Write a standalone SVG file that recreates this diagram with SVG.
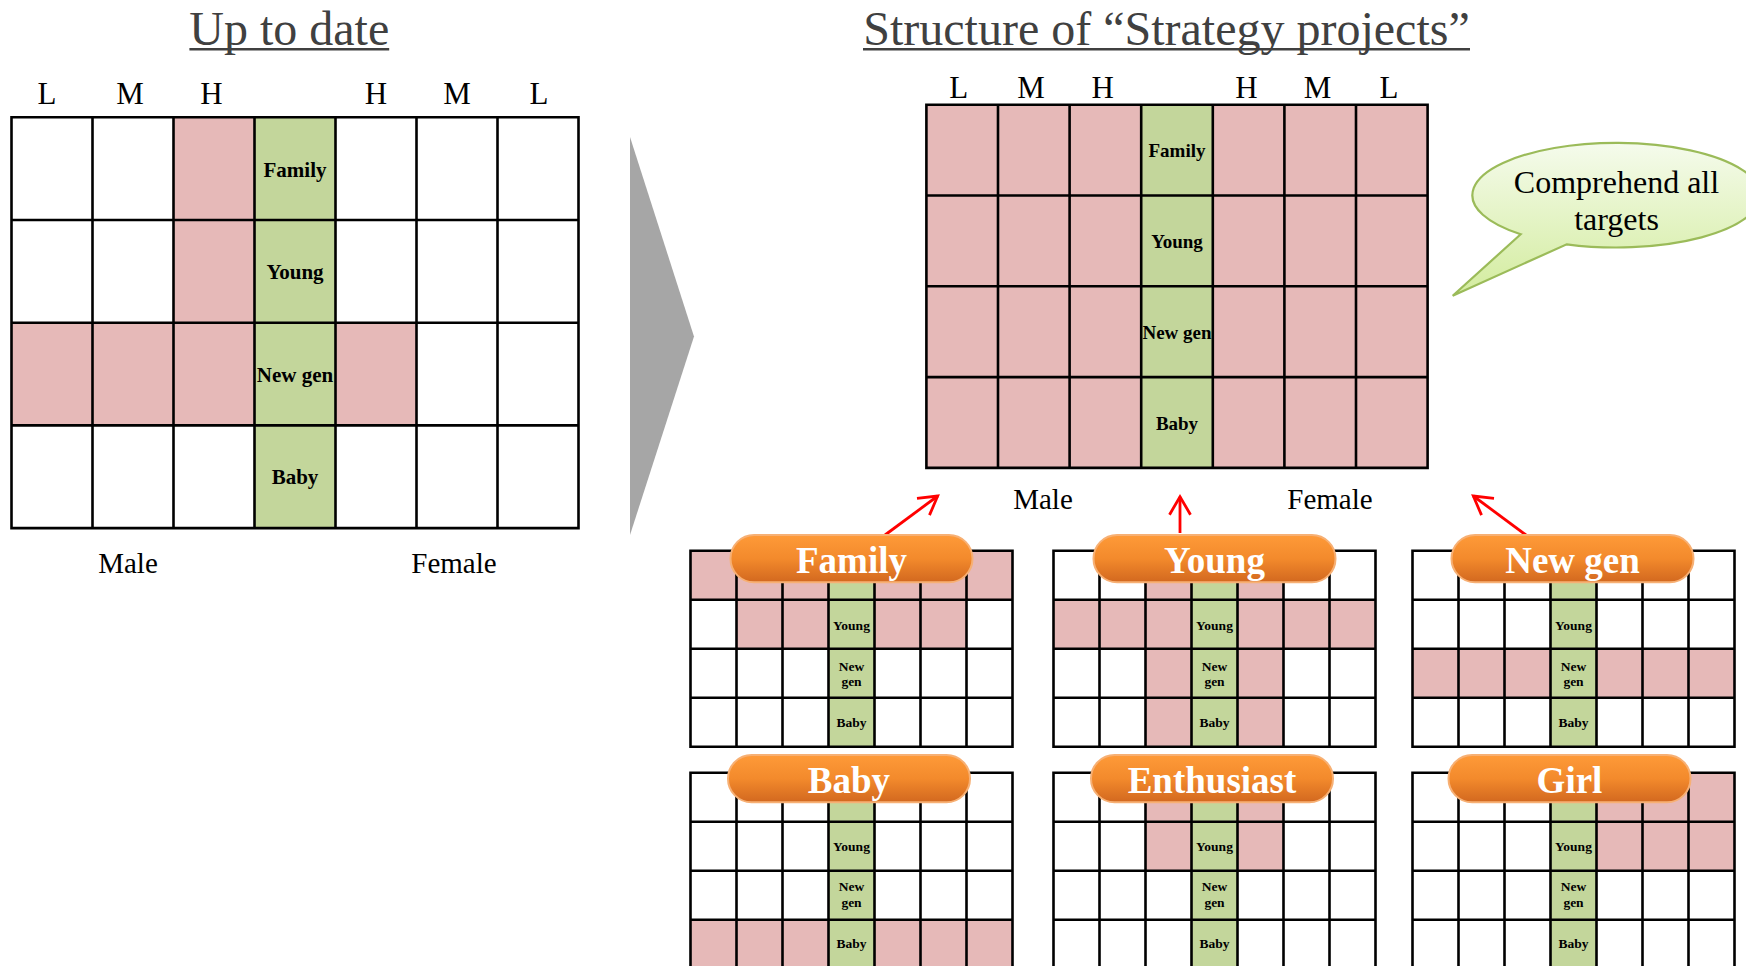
<svg xmlns="http://www.w3.org/2000/svg" xmlns:xlink="http://www.w3.org/1999/xlink" width="1746" height="966" viewBox="0 0 1746 966">
<style>
.ttl{font-family:"Liberation Serif",serif;font-size:48px;fill:#404040;text-anchor:middle}
.hdr{font-family:"Liberation Serif",serif;font-size:31px;fill:#000;text-anchor:middle}
.sex{font-family:"Liberation Serif",serif;font-size:29px;fill:#000;text-anchor:middle}
.lb{font-family:"Liberation Serif",serif;font-weight:bold;fill:#000;text-anchor:middle}
.lb21{font-size:21px}.lb19{font-size:19px}.lb13{font-size:13.5px}
.w{fill:#fff}.p{fill:#E6B9B8}.g{fill:#C3D69B}
.gl{fill:none;stroke:#000;stroke-width:2.6}
.pill{fill:url(#og);stroke:#F7B074;stroke-width:2}
.pt{font-family:"Liberation Serif",serif;font-weight:bold;font-size:37px;fill:#fff;text-anchor:middle}
.ul{stroke:#404040;stroke-width:2.6}
.red{stroke:#FF0000;stroke-width:2.8;fill:none;marker-end:url(#ah)}
</style>
<defs>
<linearGradient id="og" x1="0" y1="0" x2="0" y2="1">
<stop offset="0" stop-color="#FE9A38"/>
<stop offset="0.5" stop-color="#F38A2C"/>
<stop offset="1" stop-color="#D2681F"/>
</linearGradient>
<linearGradient id="bg" gradientUnits="userSpaceOnUse" x1="0" y1="143" x2="0" y2="296">
<stop offset="0" stop-color="#F5FBEC"/>
<stop offset="1" stop-color="#D3EC9E"/>
</linearGradient>
<marker id="ah" markerUnits="userSpaceOnUse" markerWidth="24" markerHeight="24" viewBox="0 0 24 24" refX="21" refY="12" orient="auto" overflow="visible">
<path d="M3 1.5L21 12L3 22.5" fill="none" stroke="#FF0000" stroke-width="2.8"/>
</marker>
<path id="sg" d="M0 0H322V196H0Z M46 0V196 M92 0V196 M138 0V196 M184 0V196 M230 0V196 M276 0V196 M0 49H322 M0 98H322 M0 147H322"/>
<rect id="pillshape" width="242" height="47.3" rx="23.6"/>
</defs>
<rect width="1746" height="966" fill="#fff"/>

<g id="title-left">
<text class="ttl" x="289.3" y="45">Up to date</text>
<line class="ul" x1="189.4" y1="49.2" x2="389.2" y2="49.2"/>
</g>
<g id="title-right">
<text class="ttl" x="1166.5" y="45">Structure of “Strategy projects”</text>
<line class="ul" x1="863" y1="49.2" x2="1470" y2="49.2"/>
</g>

<g id="grid-uptodate">
<text class="hdr" x="47" y="104">L</text>
<text class="hdr" x="130" y="104">M</text>
<text class="hdr" x="211.5" y="104">H</text>
<text class="hdr" x="376" y="104">H</text>
<text class="hdr" x="457" y="104">M</text>
<text class="hdr" x="539" y="104">L</text>
<rect class="w" x="11.5" y="117.3" width="567" height="410.8"/>
<rect class="p" x="173.5" y="117.3" width="81" height="308.1"/>
<rect class="p" x="11.5" y="322.7" width="162" height="102.7"/>
<rect class="p" x="335.5" y="322.7" width="81" height="102.7"/>
<rect class="g" x="254.5" y="117.3" width="81" height="410.8"/>
<path class="gl" stroke-width="2.8" d="M11.5 117.3H578.5V528.1H11.5Z M92.5 117.3V528.1 M173.5 117.3V528.1 M254.5 117.3V528.1 M335.5 117.3V528.1 M416.5 117.3V528.1 M497.5 117.3V528.1 M11.5 220H578.5 M11.5 322.7H578.5 M11.5 425.4H578.5"/>
<text class="lb lb21" x="295" y="176.7">Family</text>
<text class="lb lb21" x="295" y="279.4">Young</text>
<text class="lb lb21" x="295" y="382">New gen</text>
<text class="lb lb21" x="295" y="484">Baby</text>
<text class="sex" x="128" y="572.7">Male</text>
<text class="sex" x="454" y="572.7">Female</text>
</g>

<g id="big-arrow">
<polygon points="630,137 694,336.5 630,535" fill="#A6A6A6"/>
</g>

<g id="grid-structure">
<text class="hdr" x="958.8" y="98.3">L</text>
<text class="hdr" x="1031" y="98.3">M</text>
<text class="hdr" x="1102.6" y="98.3">H</text>
<text class="hdr" x="1246.5" y="98.3">H</text>
<text class="hdr" x="1317.5" y="98.3">M</text>
<text class="hdr" x="1389" y="98.3">L</text>
<rect class="p" x="926.4" y="104.7" width="501.2" height="363.2"/>
<rect class="g" x="1141.2" y="104.7" width="71.6" height="363.2"/>
<path class="gl" d="M926.4 104.7H1427.6V467.9H926.4Z M998 104.7V467.9 M1069.6 104.7V467.9 M1141.2 104.7V467.9 M1212.8 104.7V467.9 M1284.4 104.7V467.9 M1356 104.7V467.9 M926.4 195.5H1427.6 M926.4 286.3H1427.6 M926.4 377.1H1427.6"/>
<text class="lb lb19" x="1177" y="157">Family</text>
<text class="lb lb19" x="1177" y="248">Young</text>
<text class="lb lb19" x="1177" y="338.8">New gen</text>
<text class="lb lb19" x="1177" y="429.6">Baby</text>
<text class="sex" x="1043" y="509">Male</text>
<text class="sex" x="1330" y="509">Female</text>
</g>

<g id="bubble">
<path d="M1520.7 234.3L1452.7 295.7L1566.7 244.3A144 52.3 0 1 0 1520.7 234.3Z" fill="url(#bg)" stroke="#9BBB59" stroke-width="2.2"/>
<text class="sex" style="font-size:32px" x="1616.5" y="192.7">Comprehend all</text>
<text class="sex" style="font-size:32px" x="1616.5" y="229.5">targets</text>
</g>

<g id="connectors">
<line class="red" x1="885" y1="535" x2="937.7" y2="496"/>
<line class="red" x1="1180" y1="533" x2="1180" y2="496.7"/>
<line class="red" x1="1526" y1="535" x2="1473.3" y2="496"/>
</g>

<g id="grid-family" transform="translate(690.5,550.7)">
<rect class="w" width="322" height="196"/>
<rect class="p" x="0" y="0" width="322" height="49"/>
<rect class="p" x="46" y="49" width="92" height="49"/>
<rect class="p" x="184" y="49" width="92" height="49"/>
<rect class="g" x="138" y="0" width="46" height="196"/>
<use xlink:href="#sg" class="gl"/>
<text class="lb lb13" x="161" y="79.5">Young</text>
<text class="lb lb13" x="161" y="120">New</text>
<text class="lb lb13" x="161" y="135">gen</text>
<text class="lb lb13" x="161" y="176">Baby</text>
<use xlink:href="#pillshape" class="pill" x="40" y="-15.7"/>
<text class="pt" x="161" y="22.6">Family</text>
</g>

<g id="grid-young" transform="translate(1053.5,550.7)">
<rect class="w" width="322" height="196"/>
<rect class="p" x="0" y="49" width="322" height="49"/>
<rect class="p" x="92" y="0" width="46" height="196"/>
<rect class="p" x="184" y="0" width="46" height="196"/>
<rect class="g" x="138" y="0" width="46" height="196"/>
<use xlink:href="#sg" class="gl"/>
<text class="lb lb13" x="161" y="79.5">Young</text>
<text class="lb lb13" x="161" y="120">New</text>
<text class="lb lb13" x="161" y="135">gen</text>
<text class="lb lb13" x="161" y="176">Baby</text>
<use xlink:href="#pillshape" class="pill" x="40" y="-15.7"/>
<text class="pt" x="161" y="22.6">Young</text>
</g>

<g id="grid-newgen" transform="translate(1412.5,550.7)">
<rect class="w" width="322" height="196"/>
<rect class="p" x="0" y="98" width="322" height="49"/>
<rect class="g" x="138" y="0" width="46" height="196"/>
<use xlink:href="#sg" class="gl"/>
<text class="lb lb13" x="161" y="79.5">Young</text>
<text class="lb lb13" x="161" y="120">New</text>
<text class="lb lb13" x="161" y="135">gen</text>
<text class="lb lb13" x="161" y="176">Baby</text>
<use xlink:href="#pillshape" class="pill" x="39" y="-15.7"/>
<text class="pt" x="160" y="22.6">New gen</text>
</g>

<g id="grid-baby" transform="translate(690.5,772.7)">
<rect class="w" width="322" height="196"/>
<rect class="p" x="0" y="147" width="322" height="49"/>
<rect class="g" x="138" y="0" width="46" height="196"/>
<use xlink:href="#sg" class="gl"/>
<text class="lb lb13" x="161" y="78.5">Young</text>
<text class="lb lb13" x="161" y="118.5">New</text>
<text class="lb lb13" x="161" y="134">gen</text>
<text class="lb lb13" x="161" y="175.5">Baby</text>
<use xlink:href="#pillshape" class="pill" x="37.5" y="-17.7"/>
<text class="pt" x="158.5" y="20.6">Baby</text>
</g>

<g id="grid-enthusiast" transform="translate(1053.5,772.7)">
<rect class="w" width="322" height="196"/>
<rect class="p" x="92" y="0" width="46" height="98"/>
<rect class="p" x="184" y="0" width="46" height="98"/>
<rect class="g" x="138" y="0" width="46" height="196"/>
<use xlink:href="#sg" class="gl"/>
<text class="lb lb13" x="161" y="78.5">Young</text>
<text class="lb lb13" x="161" y="118.5">New</text>
<text class="lb lb13" x="161" y="134">gen</text>
<text class="lb lb13" x="161" y="175.5">Baby</text>
<use xlink:href="#pillshape" class="pill" x="37.5" y="-17.7"/>
<text class="pt" x="158.5" y="20.6">Enthusiast</text>
</g>

<g id="grid-girl" transform="translate(1412.5,772.7)">
<rect class="w" width="322" height="196"/>
<rect class="p" x="184" y="0" width="138" height="98"/>
<rect class="g" x="138" y="0" width="46" height="196"/>
<use xlink:href="#sg" class="gl"/>
<text class="lb lb13" x="161" y="78.5">Young</text>
<text class="lb lb13" x="161" y="118.5">New</text>
<text class="lb lb13" x="161" y="134">gen</text>
<text class="lb lb13" x="161" y="175.5">Baby</text>
<use xlink:href="#pillshape" class="pill" x="36" y="-17.7"/>
<text class="pt" x="157" y="20.6">Girl</text>
</g>
</svg>
